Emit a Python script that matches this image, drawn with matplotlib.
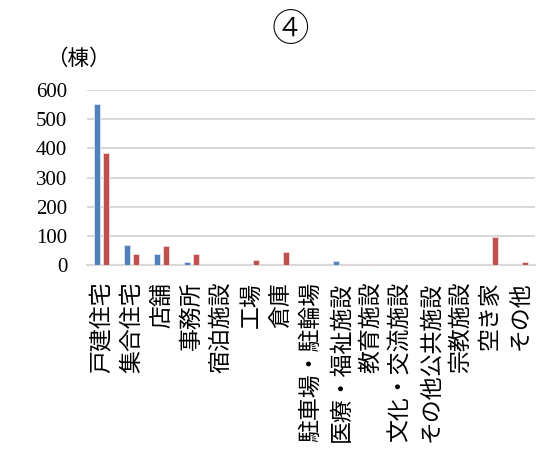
import matplotlib
matplotlib.use('Agg')
import matplotlib.pyplot as plt
import numpy as np

# categories and the two series (棟)
categories = ['戸建住宅', '集合住宅', '店舗', '事務所', '宿泊施設', '工場', '倉庫',
              '駐車場・駐輪場', '医療・福祉施設', '教育施設', '文化・交流施設',
              'その他公共施設', '宗教施設', '空き家', 'その他']
series_a = [551, 69, 40, 10, 0, 0, 2, 0, 14, 2, 0, 2, 0, 0, 0]
series_b = [384, 37, 65, 38, 0, 17, 45, 0, 3, 4, 0, 2, 0, 95, 11]
y_ticks = [0, 100, 200, 300, 400, 500, 600]

plt.rcParams['font.family'] = ['Noto Sans CJK JP', 'DejaVu Sans']

fig = plt.figure(figsize=(5.42, 4.62), dpi=100)
ax = fig.add_axes([0.16, 0.426, 0.827, 0.379])

x = np.arange(len(categories))
w = 0.2
ax.bar(x - 0.155, series_a, width=w, color='#4F81BD', edgecolor='#dce6f2', linewidth=0.6, zorder=3)
ax.bar(x + 0.155, series_b, width=w, color='#C0504D', edgecolor='#f2dcdb', linewidth=0.6, zorder=3)

ax.set_xlim(-0.5, len(categories) - 0.5)
ax.set_ylim(0, 600)
ax.set_yticks(y_ticks)
ax.set_yticklabels([str(v) for v in y_ticks], family=['Liberation Serif', 'Noto Sans CJK JP'], fontsize=15)
ax.yaxis.grid(True, color='#d9d9d9', linewidth=1.5, zorder=0)
ax.set_axisbelow(True)
for s in ['top', 'right', 'left']:
    ax.spines[s].set_visible(False)
ax.spines['bottom'].set_color('#d9d9d9')
ax.spines['bottom'].set_linewidth(1.5)
ax.tick_params(axis='both', length=0)
ax.tick_params(axis='y', pad=14)

# rotated labels, reading bottom to top, end aligned just under the axis
ax.set_xticks(x)
ax.set_xticklabels(categories, fontsize=16.5, rotation=90, ha='center', va='top')
ax.tick_params(axis='x', pad=12)

fig.text(0.535, 0.935, '④', fontsize=27, fontweight='light', ha='center', va='center')
fig.text(0.145, 0.872, '（棟）', fontsize=15.5, ha='center', va='center')

fig.savefig('out.png', dpi=100)
